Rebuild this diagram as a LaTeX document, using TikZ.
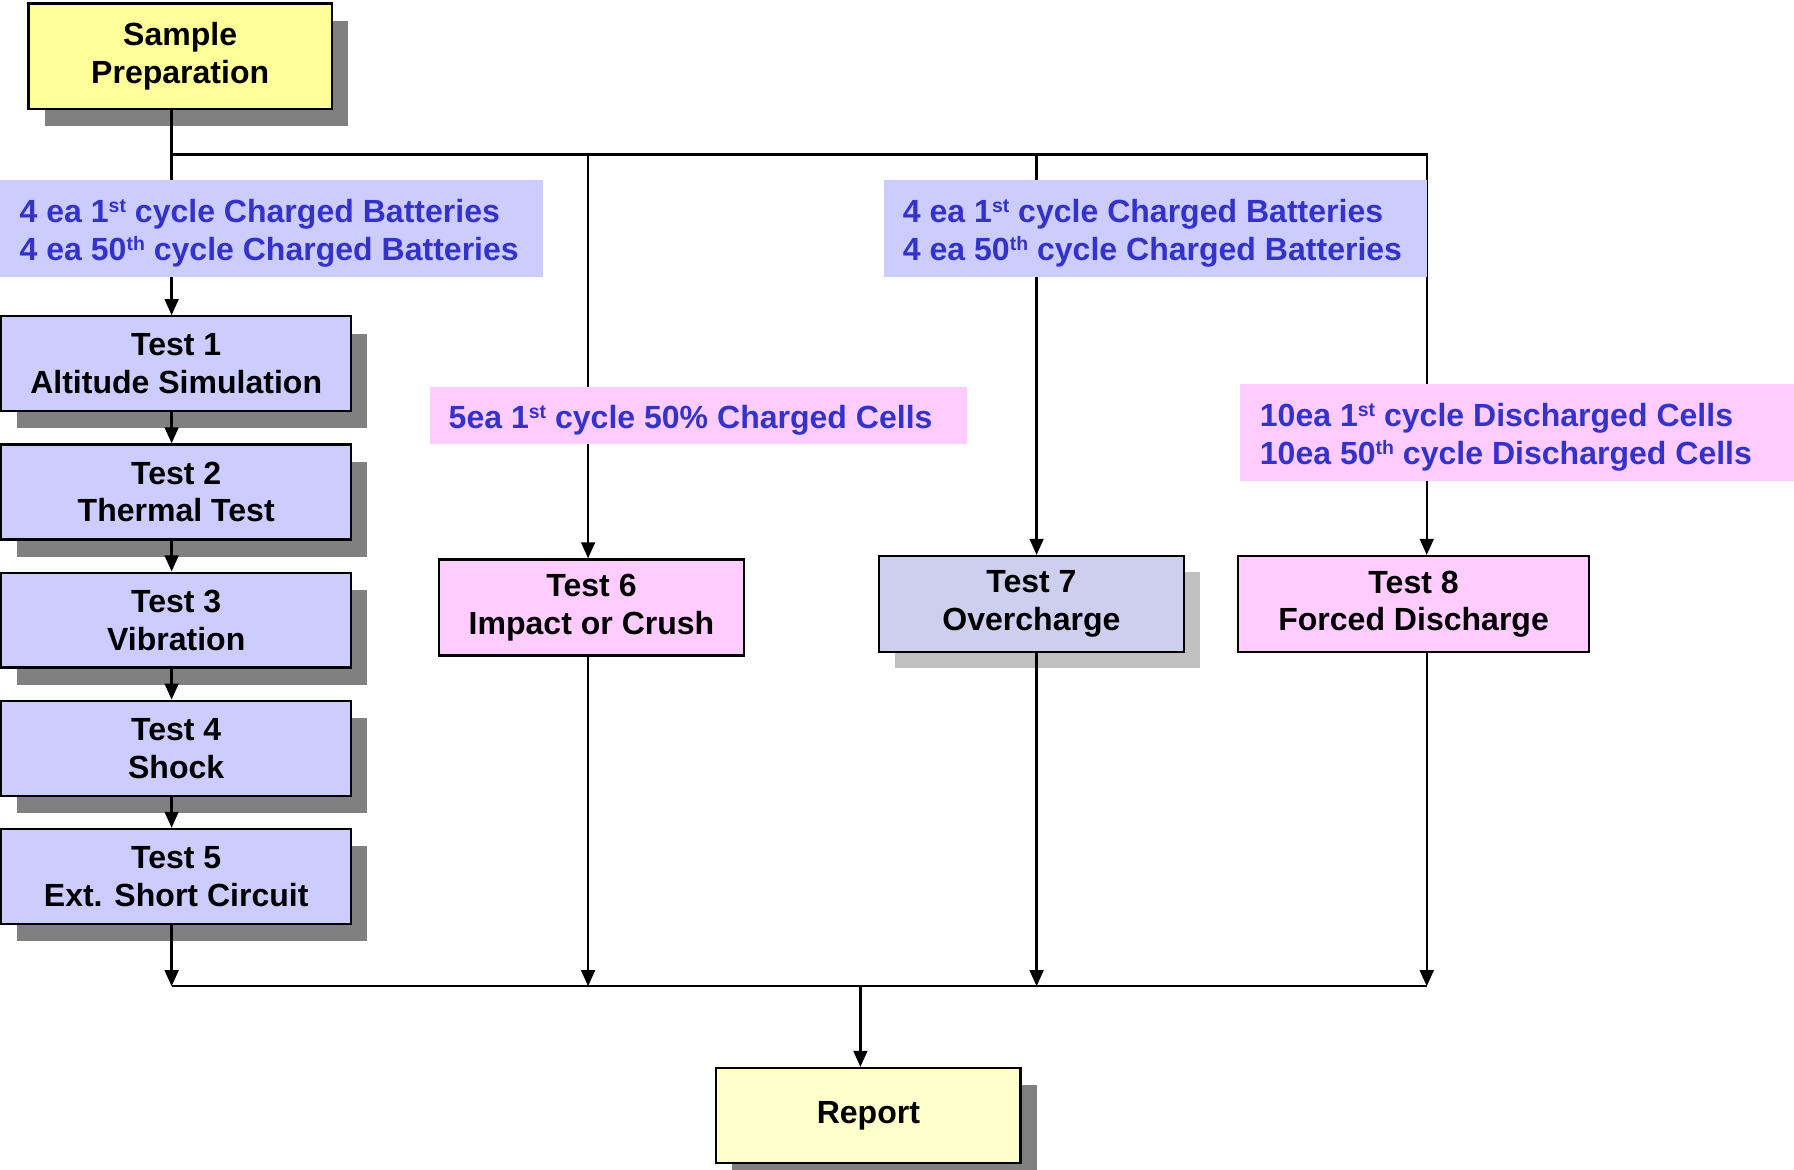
\documentclass[tikz,border=0pt]{standalone}
\usepackage{fontspec}
\setmainfont{Liberation Sans}
\usetikzlibrary{arrows.meta,shadows}
\definecolor{prepyellow}{HTML}{FFFF99}
\definecolor{repyellow}{HTML}{FFFFCC}
\definecolor{lav}{HTML}{CCCCFF}
\definecolor{lavseven}{HTML}{CECEEE}
\definecolor{pinkfill}{HTML}{FFCCFF}
\definecolor{textblue}{HTML}{3333CC}
\definecolor{shadowgray}{HTML}{808080}
\definecolor{lightshadow}{HTML}{C0C0C0}
\hyphenpenalty=10000
\newcommand{\sups}[1]{\raisebox{9pt}{\fontsize{17}{17}\selectfont #1}}
\newcommand{\lstrut}{\rule{0pt}{29pt}}
\begin{document}
\begin{tikzpicture}[x=1pt,y=-1pt,
  font=\fontsize{28}{33}\selectfont\bfseries,
  base/.style={draw=black, line width=2pt, align=center, inner sep=0pt, text=black},
  shad/.style={drop shadow={shadow xshift=14pt, shadow yshift=-15pt, fill=shadowgray, opacity=1}},
  lightshad/.style={drop shadow={shadow xshift=14pt, shadow yshift=-14pt, fill=lightshadow, opacity=1}},
  testbox/.style={base, shad, fill=lav, minimum width=306pt, minimum height=83pt},
  sidebox/.style={base, minimum width=266pt, minimum height=84pt},
  lbl/.style={fill=#1, text=textblue, align=flush left, inner xsep=17pt, inner ysep=0pt, anchor=west},
  conn/.style={line width=2pt},
  arr/.style={conn, -{Triangle[length=14pt,width=12pt]}}]
\useasboundingbox (0,0) rectangle (1568,1022);

% boxes
\node[base, shad, fill=prepyellow, minimum width=265pt, minimum height=92pt] (prep) at (157.5,49) {Sample\\Preparation};
\node[testbox] (t1) at (154,318) {Test 1\\Altitude Simulation};
\node[testbox] (t2) at (154,430) {Test 2\\Thermal Test};
\node[testbox] (t3) at (154,542) {Test 3\\Vibration};
\node[testbox] (t4) at (154,654) {Test 4\\Shock};
\node[testbox] (t5) at (154,766) {Test 5\\Ext. Short Circuit};
\node[sidebox, fill=pinkfill] (t6) at (517,531) {Test 6\\Impact or Crush};
\node[sidebox, lightshad, fill=lavseven, minimum width=267pt] (t7) at (901.5,528) {Test 7\\Overcharge};
\node[sidebox, fill=pinkfill, minimum width=307pt] (t8) at (1235.5,528) {Test 8\\Forced Discharge};
\node[base, shad, fill=repyellow, minimum width=266pt, minimum height=83pt] (report) at (759,975) {Report};

% junction points
\coordinate (tl) at (150,135);
\coordinate (tr) at (1247,135);
\coordinate (top6) at (514,135);
\coordinate (top7) at (906,135);
\coordinate (bl) at (150,862);
\coordinate (br) at (1247,862);
\coordinate (bot6) at (514,862);
\coordinate (bot7) at (906,862);
\coordinate (bm) at (752,862);

% connectors
\draw[arr] (prep.south -| tl) -- (tl) -- (tr) -- (t8.north -| tr);
\draw[arr] (tl) -- (t1.north -| tl);
\draw[arr] (t1.south -| tl) -- (t2.north -| tl);
\draw[arr] (t2.south -| tl) -- (t3.north -| tl);
\draw[arr] (t3.south -| tl) -- (t4.north -| tl);
\draw[arr] (t4.south -| tl) -- (t5.north -| tl);
\draw[arr] (t5.south -| tl) -- (bl);
\draw[arr] (top6) -- (t6.north -| top6);
\draw[arr] (t6.south -| top6) -- (bot6);
\draw[arr] (top7) -- (t7.north -| top7);
\draw[arr] (t7.south -| top7) -- (bot7);
\draw[arr] (t8.south -| tr) -- (br);
\draw[conn] (bl) -- (br);
\draw[arr] (bm) -- (report.north -| bm);

% sample labels (drawn over the lines)
\node[lbl=lav, text width=440pt, minimum height=85pt] (l1) at (0,199.5) {\lstrut 4 ea 1\sups{st} cycle Charged Batteries\\4 ea 50\sups{th} cycle Charged Batteries};
\node[lbl=pinkfill, inner xsep=16pt, text width=437pt, minimum height=50pt] (l2) at (376,363) {\lstrut 5ea 1\sups{st} cycle 50\% Charged Cells};
\node[lbl=lav, text width=441pt, minimum height=85pt] (l3) at (772,199.5) {\lstrut 4 ea 1\sups{st} cycle Charged Batteries\\4 ea 50\sups{th} cycle Charged Batteries};
\node[lbl=pinkfill, text width=450pt, minimum height=84pt] (l4) at (1084,378) {\lstrut 10ea 1\sups{st} cycle Discharged Cells\\10ea 50\sups{th} cycle Discharged Cells};
\end{tikzpicture}
\end{document}
